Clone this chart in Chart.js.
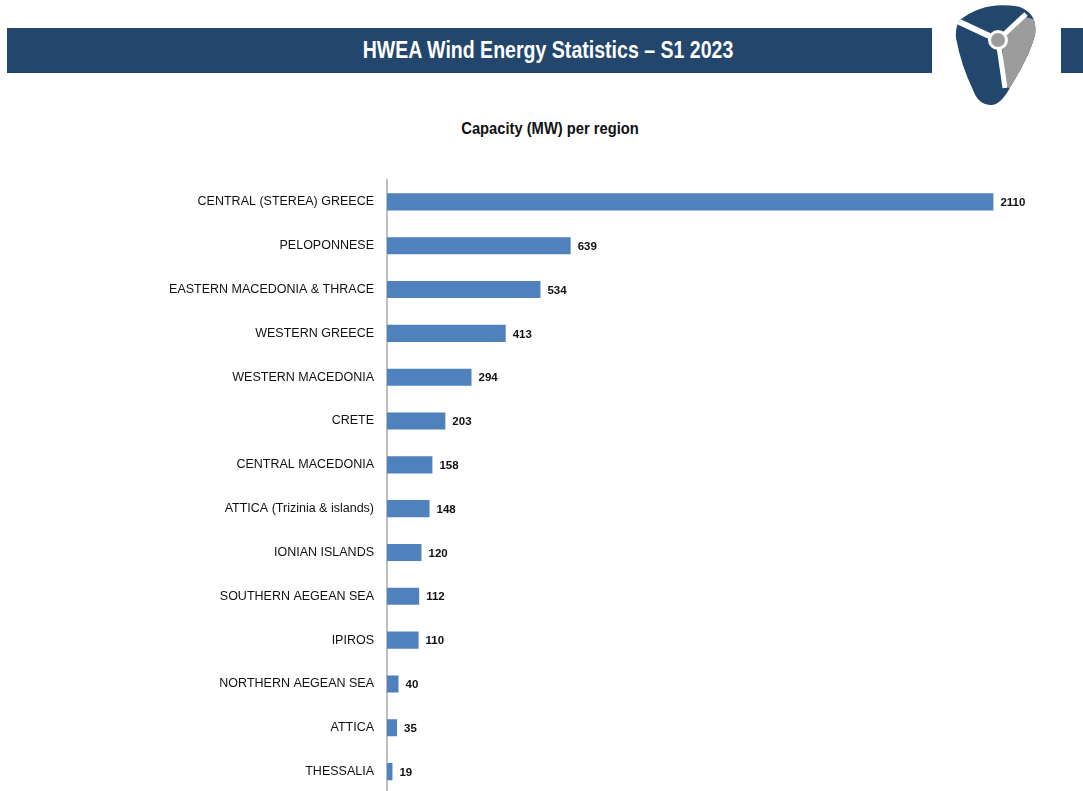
<!DOCTYPE html>
<html>
<head>
<meta charset="utf-8">
<title>HWEA Wind Energy Statistics – S1 2023</title>
<script src="https://cdn.jsdelivr.net/npm/chart.js@4.4.1/dist/chart.umd.min.js"></script>
<style>
  html, body { margin: 0; padding: 0; background: #fff; overflow: hidden; }
  #page { position: relative; width: 1083px; height: 791px; overflow: hidden; }
  .bar { position: absolute; background: #22466c; }
  #headText {
    position: absolute; left: 298px; width: 500px; top: 28px; height: 45px;
    line-height: 45px; text-align: center; color: #fff; white-space: nowrap;
    font-family: "Liberation Sans", Arial, sans-serif;
    font-weight: bold; font-size: 23px;
    transform: scaleX(0.85);
  }
  #subTitle {
    position: absolute; left: 400px; width: 300px; top: 120px; text-align: center;
    font-family: "Liberation Sans", Arial, sans-serif; font-weight: bold;
    font-size: 16px; color: #111; white-space: nowrap;
    transform: scaleX(0.92);
  }
  #logo { position: absolute; left: 0; top: 0; }
  #regionChart { position: absolute; left: 0; top: 0; }
</style>
</head>
<body>
<div id="page">
  <div class="bar" style="left:7px; top:28px; width:925px; height:45px;"></div>
  <div class="bar" style="left:1061px; top:28px; width:22px; height:45px;"></div>
  <div id="headText">HWEA Wind Energy Statistics – S1 2023</div>
  <svg id="logo" width="1083" height="110">
    <defs>
      <clipPath id="pick">
        <path d="M 960 20 Q 985 0 1020 7 Q 1038 14 1035 35 Q 1030 55 1012 84 Q 1001 106 990 105 Q 978 104 973 90 Q 961 65 956 38 Q 955 27 960 20 Z"/>
      </clipPath>
    </defs>
    <g clip-path="url(#pick)">
      <rect x="940" y="0" width="120" height="110" fill="#22466c"/>
      <polygon points="1002,40 1022,16 1050,24 1010,90 1004,82" fill="#9c9c9c"/>
      <line x1="998" y1="40" x2="955" y2="20" stroke="#fff" stroke-width="6"/>
      <line x1="998" y1="40" x2="1026" y2="14" stroke="#fff" stroke-width="5"/>
      <line x1="998" y1="40" x2="1005" y2="88" stroke="#fff" stroke-width="5"/>
    </g>
    <circle cx="998" cy="40" r="10" fill="#fff"/>
    <circle cx="998" cy="40" r="7" fill="#9c9c9c"/>
  </svg>
  <div id="subTitle">Capacity (MW) per region</div>
  <canvas id="regionChart" width="1083" height="814"></canvas>
</div>
<script>
const regions = [
  "CENTRAL (STEREA) GREECE",
  "PELOPONNESE",
  "EASTERN MACEDONIA & THRACE",
  "WESTERN GREECE",
  "WESTERN MACEDONIA",
  "CRETE",
  "CENTRAL MACEDONIA",
  "ATTICA (Trizinia & islands)",
  "IONIAN ISLANDS",
  "SOUTHERN AEGEAN SEA",
  "IPIROS",
  "NORTHERN AEGEAN SEA",
  "ATTICA",
  "THESSALIA"
];
const capacityMW = [2110, 639, 534, 413, 294, 203, 158, 148, 120, 112, 110, 40, 35, 19];

const textFont = "'Liberation Sans', Arial, sans-serif";

// writes the MW figure just right of each bar
const valueLabels = {
  id: "valueLabels",
  afterDatasetsDraw(chart) {
    const ctx = chart.ctx;
    const meta = chart.getDatasetMeta(0);
    ctx.save();
    ctx.font = "bold 11.5px " + textFont;
    ctx.fillStyle = "#111";
    ctx.textAlign = "left";
    ctx.textBaseline = "middle";
    meta.data.forEach((bar, i) => {
      ctx.fillText(String(capacityMW[i]), bar.x + 7, bar.y + 1);
    });
    ctx.restore();
  }
};

const ctx = document.getElementById("regionChart").getContext("2d");
new Chart(ctx, {
  type: "bar",
  data: {
    labels: regions,
    datasets: [{
      data: capacityMW,
      backgroundColor: "#4f81bd",
      borderWidth: 0,
      barPercentage: 0.78,
      categoryPercentage: 0.5
    }]
  },
  options: {
    indexAxis: "y",
    responsive: false,
    animation: false,
    layout: { padding: { top: 180, right: 35, bottom: 7, left: 0 } },
    plugins: {
      legend: { display: false },
      tooltip: { enabled: false },
      title: { display: false }
    },
    scales: {
      x: {
        display: false,
        min: 0,
        max: 2300
      },
      y: {
        afterFit(scale) { scale.width = 387; },
        grid: { display: false, drawTicks: false },
        border: { display: true, color: "#bfbfbf", width: 2 },
        ticks: {
          padding: 13,
          color: "#111",
          font: { family: textFont, size: 12.5 }
        }
      }
    }
  },
  plugins: [valueLabels]
});
</script>
</body>
</html>
